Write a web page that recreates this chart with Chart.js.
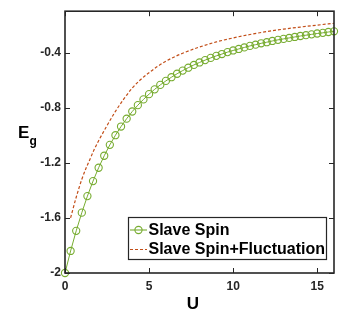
<!DOCTYPE html>
<html>
<head>
<meta charset="utf-8">
<script src="https://cdn.jsdelivr.net/npm/chart.js@4.4.1/dist/chart.umd.min.js"></script>
<style>
html, body { margin: 0; padding: 0; background: #fff; }
#contenedor { width: 346px; height: 314px; }
</style>
</head>
<body>
<div id="contenedor"><canvas id="graficaEnergia" width="346" height="314"></canvas></div>
<script>
// valores
var uSlave = [0, 0.333, 0.667, 1, 1.333, 1.667, 2, 2.333, 2.667, 3, 3.333, 3.667, 4, 4.333, 4.667, 5,
    5.333, 5.667, 6, 6.333, 6.667, 7, 7.333, 7.667, 8, 8.333, 8.667, 9, 9.333, 9.667, 10,
    10.333, 10.667, 11, 11.333, 11.667, 12, 12.333, 12.667, 13, 13.333, 13.667, 14,
    14.333, 14.667, 15, 15.333, 15.667, 16];
var eSlave = [-2, -1.840, -1.694, -1.562, -1.442, -1.333, -1.236, -1.149, -1.070, -1.000, -0.937, -0.880,
    -0.828, -0.782, -0.740, -0.702, -0.667, -0.635, -0.606, -0.579, -0.554, -0.531, -0.510, -0.490,
    -0.472, -0.455, -0.439, -0.424, -0.411, -0.397, -0.385, -0.374, -0.363, -0.352, -0.343, -0.333,
    -0.325, -0.316, -0.308, -0.301, -0.294, -0.287, -0.280, -0.274, -0.268, -0.262, -0.257, -0.251, -0.246];
var uFluct = [0.333, 0.667, 1, 1.25, 1.5, 1.75, 2, 2.5, 3, 3.5, 4, 4.5, 5, 5.5, 6, 6.5, 7, 8, 9, 10, 11, 12, 13, 14, 15, 16];
var eFluct = [-1.60, -1.45, -1.32, -1.24, -1.17, -1.10, -1.04, -0.93, -0.827, -0.737, -0.658, -0.596, -0.546, -0.501,
    -0.463, -0.432, -0.405, -0.36, -0.323, -0.294, -0.269, -0.248, -0.230, -0.215, -0.201, -0.188];
var xTicks = [0, 5, 10, 15];
var yTicks = [-2, -1.6, -1.2, -0.8, -0.4];
var seriesNames = ['Slave Spin', 'Slave Spin+Fluctuation'];

var verde = '#77AC30';
var rojo = '#C24E18';
var ejeColor = '#262626';
var fuente = '"Liberation Sans", Arial, Helvetica, sans-serif';

function toPoints(xs, ys) {
    return xs.map(function (x, i) { return { x: x, y: ys[i] }; });
}

// caja, marcas hacia dentro, titulos y leyenda estilo matlab
var cajaEjes = {
    id: 'cajaEjes',
    afterDatasetsDraw: function (chart) {
        var ctx = chart.ctx;
        var a = chart.chartArea;
        var sx = chart.scales.x;
        var sy = chart.scales.y;
        ctx.save();

        ctx.strokeStyle = ejeColor;
        ctx.lineWidth = 1;
        ctx.beginPath();
        xTicks.forEach(function (v) {
            var px = Math.round(sx.getPixelForValue(v)) + 0.5;
            ctx.moveTo(px, a.bottom); ctx.lineTo(px, a.bottom - 5);
            ctx.moveTo(px, a.top); ctx.lineTo(px, a.top + 5);
        });
        yTicks.forEach(function (v) {
            var py = Math.round(sy.getPixelForValue(v)) + 0.5;
            ctx.moveTo(a.left, py); ctx.lineTo(a.left + 5, py);
            ctx.moveTo(a.right, py); ctx.lineTo(a.right - 5, py);
        });
        ctx.stroke();

        ctx.lineWidth = 1.6;
        ctx.strokeRect(a.left, a.top, a.right - a.left, a.bottom - a.top);

        // titulos
        ctx.fillStyle = '#000';
        ctx.textBaseline = 'alphabetic';
        ctx.textAlign = 'center';
        ctx.font = 'bold 17px ' + fuente;
        ctx.fillText('U', 193, 309);
        ctx.textAlign = 'left';
        ctx.fillText('E', 18, 137.5);
        ctx.font = 'bold 12px ' + fuente;
        ctx.fillText('g', 29.5, 145);

        // leyenda
        var lx = 128, ly = 217, lw = 198, lh = 42;
        ctx.fillStyle = '#fff';
        ctx.fillRect(lx, ly, lw, lh);
        ctx.strokeStyle = ejeColor;
        ctx.lineWidth = 1.2;
        ctx.strokeRect(lx + 0.5, ly + 0.5, lw, lh);

        var r1 = 230, r2 = 249.5;
        ctx.strokeStyle = verde;
        ctx.lineWidth = 1.1;
        ctx.beginPath();
        ctx.moveTo(130, r1); ctx.lineTo(147, r1);
        ctx.stroke();
        ctx.beginPath();
        ctx.arc(138.5, r1, 3.6, 0, Math.PI * 2);
        ctx.stroke();

        ctx.strokeStyle = rojo;
        ctx.lineWidth = 1.2;
        ctx.setLineDash([3, 2]);
        ctx.beginPath();
        ctx.moveTo(130, r2); ctx.lineTo(147, r2);
        ctx.stroke();
        ctx.setLineDash([]);

        ctx.fillStyle = '#000';
        ctx.font = 'bold 16px ' + fuente;
        ctx.textBaseline = 'middle';
        ctx.fillText(seriesNames[0], 148.5, r1 + 0.5);
        ctx.fillText(seriesNames[1], 148.5, r2 + 0.5);

        ctx.restore();
    }
};

var ctx = document.getElementById('graficaEnergia').getContext('2d');
var grafica = new Chart(ctx, {
    type: 'line',
    data: {
        datasets: [{
            label: seriesNames[0],
            data: toPoints(uSlave, eSlave),
            borderColor: verde,
            borderWidth: 1,
            pointStyle: 'circle',
            pointRadius: 3.6,
            pointBorderWidth: 1.1,
            pointBorderColor: verde,
            pointBackgroundColor: 'rgba(0,0,0,0)',
            tension: 0,
            clip: false
        }, {
            label: seriesNames[1],
            data: toPoints(uFluct, eFluct),
            borderColor: rojo,
            borderWidth: 1.2,
            borderDash: [3, 2],
            pointRadius: 0,
            cubicInterpolationMode: 'monotone',
            clip: false
        }]
    },
    options: {
        responsive: false,
        animation: false,
        devicePixelRatio: 1,
        layout: { padding: { left: 0, top: 7, right: 12, bottom: 0 } },
        plugins: {
            legend: { display: false },
            tooltip: { enabled: false }
        },
        scales: {
            x: {
                type: 'linear',
                min: 0,
                max: 16,
                afterBuildTicks: function (scale) {
                    scale.ticks = xTicks.map(function (v) { return { value: v }; });
                },
                afterFit: function (scale) { scale.height = 41; },
                grid: { display: false, drawTicks: false },
                border: { display: false },
                ticks: {
                    padding: 6,
                    color: ejeColor,
                    font: { family: fuente, size: 12, weight: 'bold' },
                    maxRotation: 0,
                    callback: function (v) { return String(v); }
                }
            },
            y: {
                type: 'linear',
                min: -2,
                max: -0.1,
                afterBuildTicks: function (scale) {
                    scale.ticks = yTicks.map(function (v) { return { value: v }; });
                },
                afterFit: function (scale) { scale.width = 65; },
                grid: { display: false, drawTicks: false },
                border: { display: false },
                ticks: {
                    padding: 4,
                    color: ejeColor,
                    font: { family: fuente, size: 12, weight: 'bold' },
                    callback: function (v) { return String(v); }
                }
            }
        }
    },
    plugins: [cajaEjes]
});
</script>
</body>
</html>
